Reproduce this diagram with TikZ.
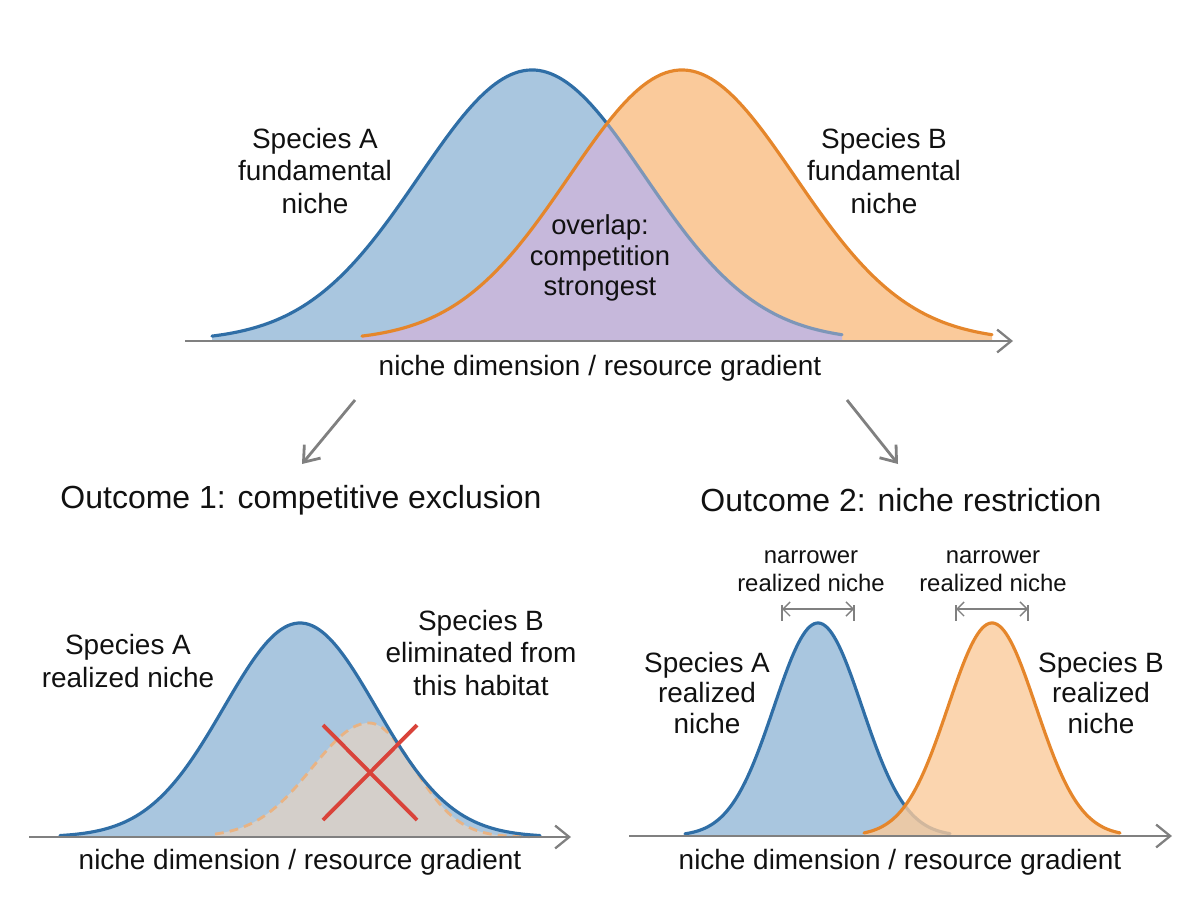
\documentclass[tikz,border=0pt]{standalone}
\usepackage{fontspec}
\setmainfont{Liberation Sans}
\usetikzlibrary{arrows.meta}
\definecolor{Afill}{HTML}{A9C6DF}
\definecolor{Aline}{HTML}{2F6EA6}
\definecolor{Amid}{HTML}{7D96B8}
\definecolor{Bfill}{HTML}{FACA9B}
\definecolor{Bline}{HTML}{E5862B}
\definecolor{Pfill}{HTML}{C6B8DB}
\definecolor{Gfill}{HTML}{D4CFCA}
\definecolor{Bdash}{HTML}{E9B383}
\definecolor{Xred}{HTML}{D9433A}
\definecolor{axgray}{HTML}{808080}
\definecolor{txt}{HTML}{111111}
\tikzset{
  lbl/.style={inner sep=0pt, align=center, text=txt, font=\fontsize{15.9}{18.7}\selectfont},
  lblsm/.style={inner sep=0pt, align=center, text=txt, font=\fontsize{13.6}{15.9}\selectfont},
  ttl/.style={inner sep=0pt, align=center, text=txt, font=\fontsize{18.2}{22}\selectfont},
  axisline/.style={draw=axgray, line width=1.3pt, -{Straight Barb[length=8pt,width=13pt,line width=1.3pt]}},
  flowarrow/.style={draw=axgray, line width=1.6pt, -{Straight Barb[length=8pt,width=12pt,line width=1.6pt]}},
  dblarrow/.style={draw=axgray, line width=0.8pt, {Straight Barb[length=4pt,width=8pt]}-{Straight Barb[length=4pt,width=8pt]}},
  tick/.style={draw=axgray, line width=0.8pt},
  curveA/.style={draw=Aline, line width=1.8pt, line cap=round},
  curveB/.style={draw=Bline, line width=1.8pt, line cap=round},
}
\begin{document}
\begin{tikzpicture}[x=0.02cm,y=-0.02cm,
  declare function={
    ga(\x)=exp(-0.5*((\x-532)/113)^2);
    gb(\x)=exp(-0.5*((\x-682)/113)^2);
    hA(\x)=exp(-0.5*((\x-300)/76)^2);
    hB(\x)=exp(-0.5*((\x-369)/(57-12*(\x>369)))^2);
    rA(\x)=exp(-0.5*((\x-818)/44)^2);
    rB(\x)=exp(-0.5*((\x-992)/44)^2);
  }]
\useasboundingbox (0,0) rectangle (1200,896);

% ---------------- top panel ----------------
\fill[Afill] (212,341) -- plot[domain=212:842,samples=140] (\x,{341-271*ga(\x)}) -- (842,341) -- cycle;
\fill[Bfill] (362,341) -- plot[domain=362:992,samples=140] (\x,{341-271*gb(\x)}) -- (992,341) -- cycle;
\fill[Pfill] (362,341) -- plot[domain=362:842,samples=160] (\x,{341-271*min(ga(\x),gb(\x))}) -- (842,341) -- cycle;
\draw[curveA] plot[domain=212:607,samples=100] (\x,{341-271*ga(\x)});
\draw[draw=Amid, line width=1.8pt, line cap=round] plot[domain=607:842,samples=80] (\x,{341-271*ga(\x)});
\draw[curveB] plot[domain=362:992,samples=140] (\x,{341-271*gb(\x)});

\coordinate (ax1s) at (185,341);
\coordinate (ax1e) at (1013,341);
\draw[axisline] (ax1s) -- (ax1e);

\node[lbl] (spA) at (315,171) {Species A\\fundamental\\niche};
\node[lbl] (spB) at (884,171) {Species B\\fundamental\\niche};
\node[lbl, font=\fontsize{15.6}{17.2}\selectfont] (ovl) at (600,258) {overlap:\\competition\\strongest};
\node[lbl] (axl1) at (600,368) {niche dimension / resource gradient};

% ---------------- flow arrows ----------------
\coordinate (fl1s) at (355,400);
\coordinate (fl1e) at (302,464);
\coordinate (fl2s) at (847,400);
\coordinate (fl2e) at (898,464);
\draw[flowarrow] (fl1s) -- (fl1e);
\draw[flowarrow] (fl2s) -- (fl2e);

\node[ttl] (t1) at (301,500) {Outcome 1: competitive exclusion};
\node[ttl] (t2) at (901,500) {Outcome 2: niche restriction};

% ---------------- bottom left ----------------
\fill[Afill] (60,837) -- plot[domain=60:540,samples=140] (\x,{837-214*hA(\x)}) -- (540,837) -- cycle;
\fill[Gfill] (215,837) -- plot[domain=215:530,samples=140] (\x,{837-214*min(hA(\x),0.5327*hB(\x))}) -- (530,837) -- cycle;
\draw[draw=Bdash, line width=1.6pt, dash pattern=on 5pt off 3.5pt] plot[domain=215:530,samples=140] (\x,{837-114*hB(\x)});
\draw[curveA] plot[domain=60:540,samples=140] (\x,{837-214*hA(\x)});

\coordinate (x1a) at (323,725);
\coordinate (x1b) at (417,820);
\coordinate (x2a) at (417,725);
\coordinate (x2b) at (323,820);
\draw[draw=Xred, line width=2.2pt] (x1a) -- (x1b);
\draw[draw=Xred, line width=2.2pt] (x2a) -- (x2b);

\coordinate (ax2s) at (29,837);
\coordinate (ax2e) at (571,837);
\draw[axisline] (ax2s) -- (ax2e);

\node[lbl] (rA1) at (128,661) {Species A\\realized niche};
\node[lbl] (elB) at (481,653) {Species B\\eliminated from\\this habitat};
\node[lbl] (axl2) at (300,862) {niche dimension / resource gradient};

% ---------------- bottom right ----------------
\fill[Afill] (685,836) -- plot[domain=685:950,samples=120] (\x,{836-213*rA(\x)}) -- (950,836) -- cycle;
\draw[curveA] plot[domain=685:950,samples=120] (\x,{836-213*rA(\x)});
\fill[Bfill, fill opacity=0.8] (864,836) -- plot[domain=864:1120,samples=120] (\x,{836-213*rB(\x)}) -- (1120,836) -- cycle;
\draw[curveB] plot[domain=864:1120,samples=120] (\x,{836-213*rB(\x)});

\coordinate (ax3s) at (629,836);
\coordinate (ax3e) at (1172,836);
\draw[axisline] (ax3s) -- (ax3e);

\coordinate (d1a) at (782,609);
\coordinate (d1b) at (854,609);
\coordinate (d2a) at (956,609);
\coordinate (d2b) at (1028,609);
\draw[dblarrow] (d1a) -- (d1b);
\draw[dblarrow] (d2a) -- (d2b);
\draw[tick] ([yshift=0.08cm]d1a) -- ([yshift=-0.24cm]d1a);
\draw[tick] ([yshift=0.08cm]d1b) -- ([yshift=-0.24cm]d1b);
\draw[tick] ([yshift=0.08cm]d2a) -- ([yshift=-0.24cm]d2a);
\draw[tick] ([yshift=0.08cm]d2b) -- ([yshift=-0.24cm]d2b);

\node[lblsm] (nw1) at (811,571) {narrower\\realized niche};
\node[lblsm] (nw2) at (993,571) {narrower\\realized niche};
\node[lbl, font=\fontsize{15.9}{17.4}\selectfont] (rA2) at (707,693) {Species A\\realized\\niche};
\node[lbl, font=\fontsize{15.9}{17.4}\selectfont] (rB2) at (1101,693) {Species B\\realized\\niche};
\node[lbl] (axl3) at (900,862) {niche dimension / resource gradient};
\end{tikzpicture}
\end{document}
